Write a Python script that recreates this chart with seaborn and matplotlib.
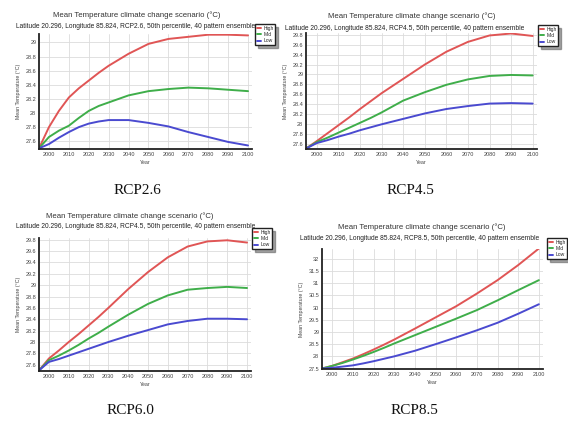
import pandas as pd
import seaborn as sns
import matplotlib.pyplot as plt

W, H = 568, 424

years = [1995, 2000, 2005, 2010, 2015, 2020, 2025, 2030, 2040, 2050, 2060, 2070, 2080, 2090, 2100]
series_names = ["High", "Mid", "Low"]
colors = ["#e05555", "#3fae4a", "#4a4ad0"]

# RCP2.6
rcp26_high = [27.5, 27.80, 28.03, 28.22, 28.35, 28.46, 28.57, 28.67, 28.84, 28.98, 29.05, 29.08, 29.11, 29.11, 29.10]
rcp26_mid = [27.5, 27.66, 27.75, 27.82, 27.93, 28.03, 28.10, 28.15, 28.25, 28.31, 28.34, 28.36, 28.35, 28.33, 28.31]
rcp26_low = [27.5, 27.56, 27.65, 27.73, 27.80, 27.85, 27.88, 27.90, 27.90, 27.86, 27.81, 27.73, 27.66, 27.59, 27.54]

# RCP4.5
rcp45_high = [27.5, 27.65, 27.81, 27.97, 28.13, 28.30, 28.46, 28.62, 28.91, 29.20, 29.46, 29.66, 29.79, 29.83, 29.78]
rcp45_mid = [27.5, 27.63, 27.72, 27.82, 27.92, 28.02, 28.12, 28.23, 28.47, 28.64, 28.79, 28.90, 28.97, 28.99, 28.98]
rcp45_low = [27.5, 27.61, 27.67, 27.74, 27.80, 27.87, 27.93, 27.99, 28.10, 28.21, 28.30, 28.36, 28.41, 28.42, 28.41]

# RCP6.0
rcp60_high = [27.5, 27.71, 27.85, 28.00, 28.14, 28.29, 28.44, 28.60, 28.93, 29.23, 29.49, 29.68, 29.77, 29.79, 29.75]
rcp60_mid = [27.5, 27.68, 27.76, 27.85, 27.95, 28.06, 28.16, 28.27, 28.48, 28.67, 28.82, 28.92, 28.95, 28.97, 28.95]
rcp60_low = [27.5, 27.65, 27.70, 27.76, 27.82, 27.88, 27.94, 28.00, 28.11, 28.21, 28.31, 28.37, 28.41, 28.41, 28.40]

# RCP8.5
rcp85_high = [27.5, 27.61, 27.76, 27.91, 28.09, 28.28, 28.48, 28.69, 29.14, 29.60, 30.06, 30.58, 31.13, 31.75, 32.43]
rcp85_mid = [27.5, 27.61, 27.73, 27.87, 28.02, 28.18, 28.35, 28.53, 28.87, 29.21, 29.55, 29.90, 30.30, 30.72, 31.13]
rcp85_low = [27.5, 27.53, 27.58, 27.63, 27.71, 27.80, 27.90, 28.00, 28.23, 28.50, 28.78, 29.07, 29.38, 29.75, 30.14]

panels = [
    ("RCP2.6", "RCP2.6", [rcp26_high, rcp26_mid, rcp26_low]),
    ("RCP4.5", "RCP4.5", [rcp45_high, rcp45_mid, rcp45_low]),
    ("RCP6.0", "RCP4.5", [rcp60_high, rcp60_mid, rcp60_low]),
    ("RCP8.5", "RCP8.5", [rcp85_high, rcp85_mid, rcp85_low]),
]

# layout in pixels: (left, top, right, bottom), ylim, y ticks
boxes = [(39, 34, 252, 149), (306, 33, 537, 149), (39, 238, 251, 371), (322, 249, 543, 369)]
ylims = [(27.49, 29.12), (27.49, 29.84), (27.49, 29.83), (27.48, 32.41)]
yticks = [
    [27.6, 27.8, 28, 28.2, 28.4, 28.6, 28.8, 29],
    [27.6, 27.8, 28, 28.2, 28.4, 28.6, 28.8, 29, 29.2, 29.4, 29.6, 29.8],
    [27.6, 27.8, 28, 28.2, 28.4, 28.6, 28.8, 29, 29.2, 29.4, 29.6, 29.8],
    [27.5, 28, 28.5, 29, 29.5, 30, 30.5, 31, 31.5, 32],
]
xticks = list(range(2000, 2101, 10))
# title / subtitle / legend / caption anchors (pixels)
title_pos = [(137, 15), (412, 16), (130, 216), (422, 227)]
sub_pos = [(16, 26), (285, 28), (16, 226), (300, 238)]
leg_pos = [(255, 24), (538, 25), (252, 228), (547, 238)]
cap_pos = [(137, 190), (410, 190), (130, 411), (414, 411)]


def fx(x):
    return x / W


def fy(y):
    return 1 - y / H


def main():
    sns.set_style("white")
    plt.rcParams["font.family"] = ["Liberation Sans", "DejaVu Sans"]
    fig = plt.figure(figsize=(W / 100, H / 100), dpi=100)

    for i, (name, sub_name, vals) in enumerate(panels):
        rows = []
        for s, v in zip(series_names, vals):
            for yr, t in zip(years, v):
                rows.append({"Year": yr, "Temp": t, "Series": s})
        df = pd.DataFrame(rows)

        l, t, r, b = boxes[i]
        ax = fig.add_axes([fx(l), fy(b), (r - l) / W, (b - t) / H])
        sns.lineplot(data=df, x="Year", y="Temp", hue="Series",
                     hue_order=series_names, palette=colors, linewidth=1.4, ax=ax)
        ax.set_xlim(1995, 2102)
        ax.set_ylim(*ylims[i])
        ax.set_xticks(xticks)
        ax.set_yticks(yticks[i])
        ax.set_yticklabels([f"{v:g}" for v in yticks[i]])
        ax.tick_params(labelsize=4, length=0, pad=2, colors="#444444")
        ax.grid(True, color="#dcdcdc", linewidth=0.6)
        for sp in ["top", "right"]:
            ax.spines[sp].set_visible(False)
        for sp in ["left", "bottom"]:
            ax.spines[sp].set_color("#222222")
            ax.spines[sp].set_linewidth(1.3)
        ax.set_xlabel("Year", fontsize=3.8, color="#444444", labelpad=2)
        ax.set_ylabel("Mean Temperature (°C)", fontsize=3.8, color="#444444", labelpad=3)

        ax.legend(loc="upper left", bbox_to_anchor=(fx(leg_pos[i][0]), fy(leg_pos[i][1])),
                  bbox_transform=fig.transFigure, fontsize=3.6, frameon=True,
                  fancybox=False, shadow=True, edgecolor="#222222",
                  handlelength=0.9, handletextpad=0.4, borderpad=0.35,
                  labelspacing=0.25, borderaxespad=0)

        fig.text(fx(title_pos[i][0]), fy(title_pos[i][1]),
                 "Mean Temperature climate change scenario (°C)",
                 ha="center", va="center", fontsize=5.6, color="#333333")
        fig.text(fx(sub_pos[i][0]), fy(sub_pos[i][1]),
                 f"Latitude 20.296, Longitude 85.824, {sub_name}, "
                 "50th percentile, 40 pattern ensemble",
                 ha="left", va="center", fontsize=4.8, color="#222222")
        fig.text(fx(cap_pos[i][0]), fy(cap_pos[i][1]), name, ha="center", va="center",
                 fontsize=11, family="Liberation Serif", color="#111111")

    plt.savefig("out.png", dpi=100)
    plt.close()


if __name__ == "__main__":
    main()
